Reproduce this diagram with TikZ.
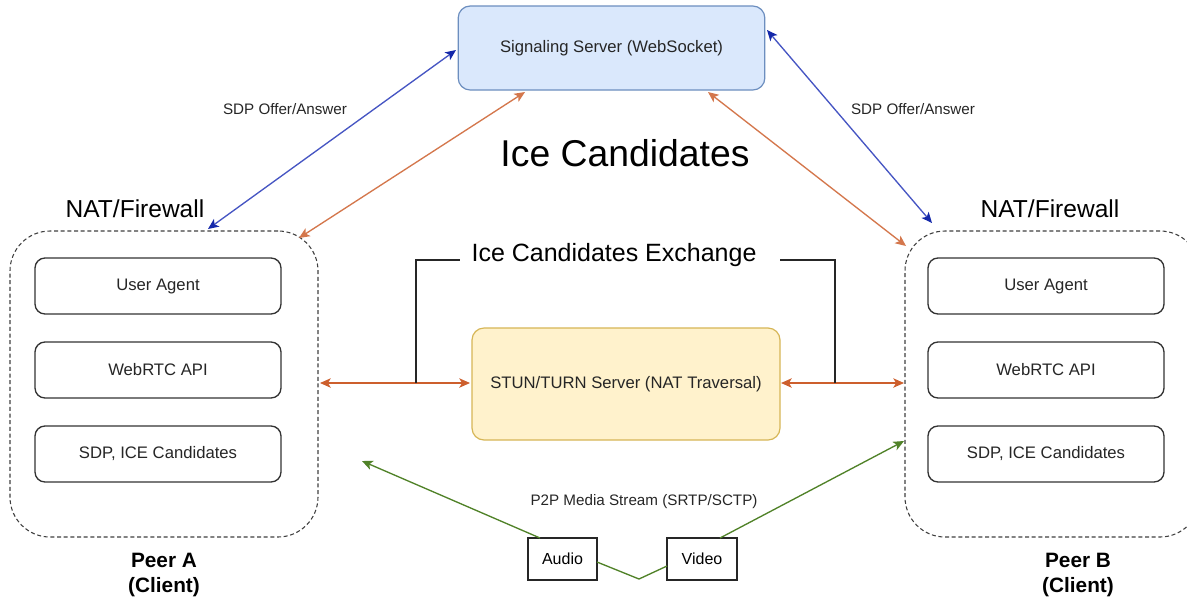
\documentclass[tikz,border=0pt]{standalone}
\usepackage{fontspec}
\setmainfont{Liberation Sans}
\usetikzlibrary{arrows.meta}
\definecolor{sigfill}{HTML}{DAE8FC}
\definecolor{sigdraw}{HTML}{6C8EBF}
\definecolor{stunfill}{HTML}{FFF2CC}
\definecolor{stundraw}{HTML}{D6B656}
\definecolor{blueln}{RGB}{70,85,195}
\definecolor{bluetip}{RGB}{20,40,170}
\definecolor{orangeln}{RGB}{205,95,45}
\definecolor{greenln}{RGB}{80,130,40}
\begin{document}
\begin{tikzpicture}[x=0.75pt,y=-0.75pt,
  txt/.style={font=\fontsize{12.5}{15}\selectfont, text=black!85},
  innerbox/.style={draw=black!80, rounded corners=7.5pt, line width=1pt, minimum width=#1, minimum height=42pt, txt},
  peerbox/.style={draw=black!75, dash pattern=on 3pt off 2pt, rounded corners=30pt, line width=0.8pt},
  srvbox/.style={rounded corners=9pt, line width=0.9pt, txt},
  plainbox/.style={draw=black!85, line width=1pt, minimum width=#1, minimum height=31.5pt, font=\fontsize{12}{14}\selectfont},
  nat/.style={font=\fontsize{18.4}{22}\selectfont},
  peerlbl/.style={font=\fontsize{15.6}{18.75}\selectfont\bfseries, align=center},
  small/.style={font=\fontsize{11.4}{13}\selectfont, text=black!85},
  dbl/.style={line width=1pt, {Stealth[length=8pt,width=7pt,inset=2pt]}-{Stealth[length=8pt,width=7pt,inset=2pt]}},
  bluedbl/.style={line width=1pt, draw=blueln, {Stealth[length=8pt,width=7pt,inset=2pt,color=bluetip]}-{Stealth[length=8pt,width=7pt,inset=2pt,color=bluetip]}},
  single/.style={line width=1pt, -{Stealth[length=8pt,width=7pt,inset=2pt]}}
]
\clip (0,0) rectangle (1187,601);
\fill[white] (0,0) rectangle (1187,601);

% servers
\node[srvbox, draw=sigdraw, fill=sigfill, minimum width=230pt, minimum height=63pt] (sig) at (611.5,48) {Signaling Server (WebSocket)};
\node[srvbox, draw=stundraw, fill=stunfill, minimum width=231pt, minimum height=84pt] (stun) at (626,384) {STUN/TURN Server (NAT Traversal)};

% peers
\node[peerbox, minimum width=231pt, minimum height=229.5pt] (peerA) at (164,384) {};
\node[peerbox, minimum width=221.25pt, minimum height=229.5pt] (peerB) at (1052.5,384) {};

\node[innerbox=184.5pt] (uaA) at (158,286) {User Agent};
\node[innerbox=184.5pt] (apiA) at (158,370) {WebRTC API};
\node[innerbox=184.5pt] (sdpA) at (158,454) {SDP, ICE Candidates};
\node[innerbox=177pt] (uaB) at (1046,286) {User Agent};
\node[innerbox=177pt] (apiB) at (1046,370) {WebRTC API};
\node[innerbox=177pt] (sdpB) at (1046,454) {SDP, ICE Candidates};

% labels
\node[nat] (natA) at (135,209) {NAT/Firewall};
\node[nat] (natB) at (1050,209) {NAT/Firewall};
\node[peerlbl] (lblA) at (164,575) {Peer A\\(Client)};
\node[peerlbl] (lblB) at (1078,575) {Peer B\\(Client)};
\node[font=\fontsize{28}{32}\selectfont] (ice) at (625,153) {Ice Candidates};
\node[font=\fontsize{18.75}{22}\selectfont] (icex) at (614,255) {Ice Candidates Exchange};
\node[small] (sdpL) at (285,109) {SDP Offer/Answer};
\node[small] (sdpR) at (913,109) {SDP Offer/Answer};
\node[small] (p2p) at (644,502) {P2P Media Stream (SRTP/SCTP)};

% media boxes
\node[plainbox=51.75pt] (audio) at (562.5,559) {Audio};
\node[plainbox=52.5pt] (video) at (702,559) {Video};

% connector end points
\coordinate (bAl) at (208,229);
\coordinate (bSl) at (456,50);
\coordinate (oAl) at (299,238);
\coordinate (oSl) at (525,92);
\coordinate (oSr) at (708,92);
\coordinate (oBr) at (906,246);
\coordinate (bSr) at (767,30);
\coordinate (bBr) at (932,223);
\coordinate (hA) at (320,383);
\coordinate (hSl) at (470,383);
\coordinate (hSr) at (781,383);
\coordinate (hB) at (904,383);
\coordinate (brL) at (416,383);
\coordinate (brR) at (835,383);
\coordinate (gA) at (362,461);
\coordinate (gB) at (904,441);
\coordinate (gAudio) at (540,538);
\coordinate (gVideo) at (720,538);
\coordinate (vL) at (597,562);
\coordinate (vM) at (639,579);
\coordinate (vR) at (667,566);

% signaling arrows
\draw[bluedbl] (bAl) -- (bSl);
\draw[bluedbl] (bSr) -- (bBr);
\draw[dbl, orangeln!85] (oAl) -- (oSl);
\draw[dbl, orangeln!85] (oSr) -- (oBr);

% STUN arrows
\draw[dbl, orangeln] (hA) -- (hSl);
\draw[dbl, orangeln] (hSr) -- (hB);

% bracket
\draw[line width=1pt, black!85] (brL) -- (416,260) -- (460,260);
\draw[line width=1pt, black!85] (780,260) -- (835,260) -- (brR);

% media arrows
\draw[single, greenln] (gAudio) -- (gA);
\draw[single, greenln] (gVideo) -- (gB);
\draw[line width=1pt, greenln] (vL) -- (vM) -- (vR);
\end{tikzpicture}
\end{document}
